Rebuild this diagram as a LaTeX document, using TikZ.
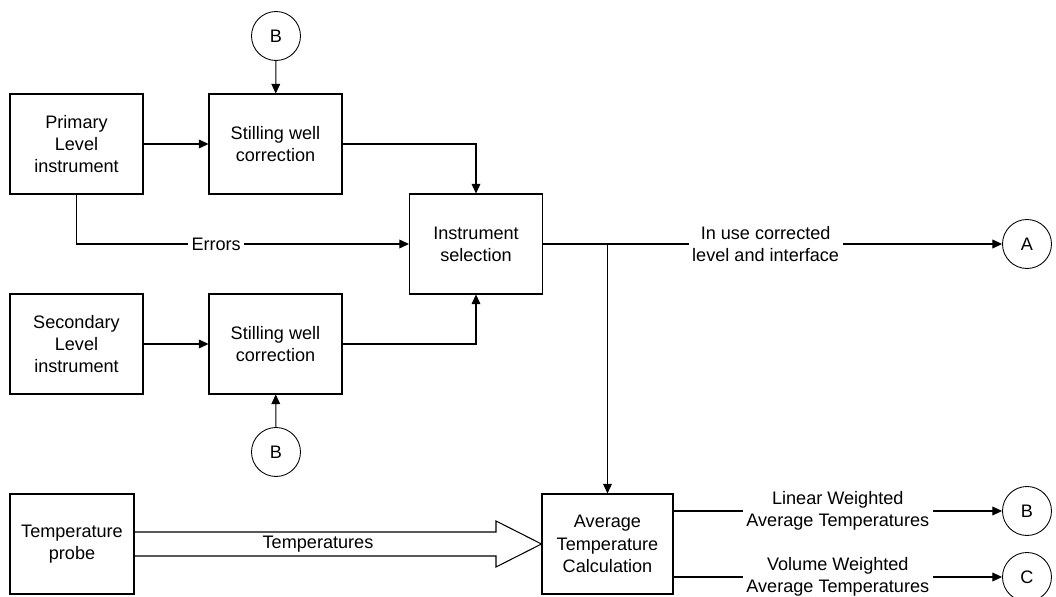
\documentclass[tikz,border=0pt]{standalone}
\usepackage{fontspec}
\setmainfont{Liberation Sans}
\usetikzlibrary{arrows.meta,calc}

\begin{document}
\begin{tikzpicture}[x=0.02cm,y=-0.02cm,line width=0.6pt,
  font=\fontsize{10.3}{12.6}\selectfont,
  >={Triangle[length=5.5pt,width=5pt]},
  block/.style={draw,align=center,minimum width=2.66cm,minimum height=2cm,inner sep=2pt},
  conn/.style={draw,circle,minimum size=0.98cm,inner sep=0pt,line width=0.5pt},
  lbl/.style={fill=white,align=center,inner sep=2pt}]
\useasboundingbox (0,0) rectangle (1056,597);

% boxes
\node[block] (primary)   at (76.5,144)  {Primary\\Level\\instrument};
\node[block] (sw1)       at (275.5,144) {Stilling well\\correction};
\node[block] (instr)     at (476,244)   {Instrument\\selection};
\node[block] (secondary) at (76.5,344)  {Secondary\\Level\\instrument};
\node[block] (sw2)       at (275.5,344) {Stilling well\\correction};
\node[block,minimum width=2.48cm] (probe) at (72,544)    {Temperature\\probe};
\node[block,minimum width=2.62cm] (avg)   at (607.5,544) {Average\\Temperature\\Calculation};

% connectors
\node[conn] (inB1) at (276,36)  {B};
\node[conn] (inB2) at (276,452) {B};
\node[conn] (outA) at (1027,244) {A};
\node[conn] (outB) at (1027,511) {B};
\node[conn] (outC) at (1027,577) {C};

\draw[->] (inB1) -- (sw1);
\draw[->] (inB2) -- (sw2);
\draw[->] (primary) -- (sw1);
\draw[->] (secondary) -- (sw2);
\draw[->] (sw1.east) -| (instr.north);
\draw[->] (sw2.east) -| (instr.south);
\draw[->] (primary.south) |- node[lbl,pos=0.71] {Errors} (instr.west);

\draw[->] (instr.east) -- node[lbl,pos=0.485] {In use corrected\\level and interface} (outA);
\coordinate (split) at (avg.north |- instr.east);
\draw[->] (split) -- (avg.north);

\draw[->] (avg.east |- outB) -- node[lbl] {Linear Weighted\\Average Temperatures} (outB);
\draw[->] (avg.east |- outC) -- node[lbl] {Volume Weighted\\Average Temperatures} (outC);

% hollow arrow
\draw ($(probe.east)+(0,-12)$) -- (496,532) -- (496,521) -- (avg.west)
  -- (496,567) -- (496,556) -- ($(probe.east)+(0,12)$);
\node at (318,544) {Temperatures};

\end{tikzpicture}
\end{document}
